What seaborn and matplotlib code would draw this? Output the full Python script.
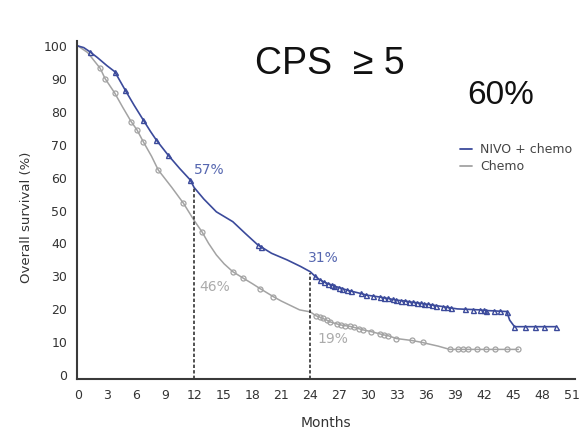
import matplotlib
matplotlib.use("Agg")
import matplotlib.pyplot as plt
import seaborn as sns
from matplotlib.lines import Line2D

# Kaplan-Meier overall survival, CPS >= 5 subgroup
nivo_months = [0, 0.6, 1.2, 2, 3, 3.8, 4.9, 5.8, 6.75, 7.5, 8.1, 9.3, 10.5, 11.6, 12,
               13, 14.3, 16, 17.3, 18.6, 18.9, 20, 21.6, 23, 24, 24.5, 25, 25.4, 25.8,
               26.2, 26.5, 27, 27.3, 27.8, 28.2, 28.5, 29.2, 29.8, 30.5, 31.2, 31.6,
               32, 32.5, 32.9, 33.4, 33.8, 34.2, 34.6, 35, 35.4, 35.8, 36.2, 36.6, 37,
               37.7, 38.1, 38.5, 39.2, 40, 40.8, 41.5, 41.9, 42.2, 43, 43.6, 44.3, 44.6,
               45.1, 46.2, 47.2, 48.2, 49.4]
nivo_surv = [100, 99.5, 98.3, 96.5, 94, 92.2, 86.5, 82, 77.5, 74, 71.4, 66.9, 62.8, 59.3, 57,
             53.5, 49.6, 46.6, 43, 39.5, 39.0, 37, 35, 33, 31.4, 30, 28.9, 28.3, 27.8,
             27.4, 27, 26.6, 26.3, 25.8, 25.5, 25.3, 24.8, 24.3, 24, 23.7, 23.5,
             23.3, 23.0, 22.8, 22.6, 22.5, 22.3, 22.1, 22.0, 21.8, 21.6, 21.5, 21.3, 21.1,
             20.8, 20.6, 20.4, 20.1, 20, 19.9, 19.8, 19.7, 19.6, 19.5, 19.4, 19.3, 16.7,
             14.7, 14.7, 14.7, 14.7, 14.7]
nivo_censored = [1.2, 3.8, 4.9, 6.75, 8.1, 9.3, 11.6, 18.6, 18.9, 24.5, 25, 25.4, 25.8,
                 26.2, 26.5, 27, 27.3, 27.8, 28.2, 29.2, 29.8, 30.5, 31.2, 31.6, 32,
                 32.5, 32.9, 33.4, 33.8, 34.2, 34.6, 35, 35.4, 35.8, 36.2, 36.6, 37,
                 37.7, 38.1, 38.5, 40, 40.8, 41.5, 41.9, 42.2, 43, 43.6, 44.3, 45.1,
                 46.2, 47.2, 48.2, 49.4]

chemo_months = [0, 1, 2.3, 2.8, 3.8, 4.6, 5.5, 6.1, 6.75, 7.6, 8.3, 9.7, 10.9, 12, 12.8,
                13.5, 14.3, 15.1, 16, 17.1, 18, 18.8, 20.2, 21, 22.9, 24, 24.6, 25.0,
                25.3, 25.7, 26, 26.8, 27.2, 27.6, 28.1, 28.5, 29.0, 29.5, 30.3, 31.2,
                31.6, 32, 32.9, 34.5, 35.6, 36, 37.2, 38.4, 39.3, 39.8, 40.3, 41.2,
                42.2, 43.1, 44.3, 45.5]
chemo_surv = [100, 98, 93.2, 90.1, 85.7, 81.5, 77, 74.5, 70.9, 66.5, 62.3, 57, 52.2, 47, 43.6,
              40, 36.5, 33.8, 31.4, 29.4, 27.8, 26.3, 23.8, 22.5, 19.8, 19.2, 18, 17.6,
              17.2, 16.7, 16.2, 15.5, 15.2, 15, 14.8, 14.5, 14.1, 13.7, 13.2, 12.5,
              12.2, 12, 11.1, 10.5, 9.9, 9.6, 8.8, 7.8, 7.8, 7.8, 7.8, 7.8,
              7.8, 7.8, 7.8, 7.8]
chemo_censored = [2.3, 2.8, 3.8, 5.5, 6.1, 6.75, 8.3, 10.9, 12.8, 16, 17.1, 18.8, 20.2,
                  24.6, 25.0, 25.3, 25.7, 26, 26.8, 27.2, 27.6, 28.1, 28.5, 29.0, 29.5,
                  30.3, 31.2, 31.6, 32, 32.9, 34.5, 35.6, 38.4, 39.3, 39.8, 40.3, 41.2,
                  42.2, 43.1, 44.3, 45.5]

# Landmark survival rates at 12 and 24 months
landmark_months = [12, 24]
nivo_landmarks = [57, 31]
chemo_landmarks = [46, 19]

series_names = ["NIVO + chemo", "Chemo"]
x_ticks = list(range(0, 52, 3))
y_ticks = list(range(0, 101, 10))

BLUE = "#3b4a9b"
BLUE_TXT = "#5667b0"
GRAY = "#a3a3a3"
GRAY_TXT = "#ababab"
AXIS = "#3a3a3a"

sns.set_theme(style="white")
plt.rcParams["font.family"] = ["DejaVu Sans"]

fig = plt.figure(figsize=(5.84, 4.30), dpi=100)
ax = fig.add_axes([0.1318, 0.1186, 0.8536, 0.786])


def mark_idx(months, censored):
    cs = set(censored)
    return [i for i, m in enumerate(months) if m in cs]


sns.lineplot(x=chemo_months, y=chemo_surv, ax=ax, color=GRAY, linewidth=1.1,
             marker="o", markersize=3.6, markerfacecolor="none",
             markeredgecolor=GRAY, markeredgewidth=0.9,
             markevery=mark_idx(chemo_months, chemo_censored), estimator=None,
             sort=False)
sns.lineplot(x=nivo_months, y=nivo_surv, ax=ax, color=BLUE, linewidth=1.2,
             marker="^", markersize=3.6, markerfacecolor="none",
             markeredgecolor=BLUE, markeredgewidth=1.0,
             markevery=mark_idx(nivo_months, nivo_censored), estimator=None,
             sort=False)

# dashed landmark lines from the axis to the NIVO + chemo curve
ax.vlines(landmark_months, -1.2, nivo_landmarks, colors="#222222",
          linestyles=(0, (2.2, 1.4)), linewidth=1.1)

# landmark labels
label_kw = dict(fontsize=10, va="center", ha="left")
ax.text(12.0, 62.3, f"{nivo_landmarks[0]}%", color=BLUE_TXT, **label_kw)
ax.text(23.8, 35.6, f"{nivo_landmarks[1]}%", color=BLUE_TXT, **label_kw)
ax.text(12.5, 26.8, f"{chemo_landmarks[0]}%", color=GRAY_TXT, **label_kw)
ax.text(24.7, 10.9, f"{chemo_landmarks[1]}%", color=GRAY_TXT, **label_kw)

ax.set_xlim(-0.1, 51.4)
ax.set_ylim(-1.2, 101.5)
ax.set_xticks(x_ticks)
ax.set_yticks(y_ticks)
ax.tick_params(axis="both", direction="out", length=5, width=1.3, color=AXIS,
               labelsize=9, labelcolor="#333333", pad=2)
for side in ["top", "right"]:
    ax.spines[side].set_visible(False)
for side in ["left", "bottom"]:
    ax.spines[side].set_color(AXIS)
    ax.spines[side].set_linewidth(1.5)

ax.set_xlabel("Months", fontsize=10, color="#333333", labelpad=10.5)
ax.set_ylabel("Overall survival (%)", fontsize=9.5, color="#333333")
ax.yaxis.set_label_coords(-0.088, 0.479)

# title and headline figure
fig.text(0.564, 0.851, "CPS  \u2265 5", fontsize=27, color="#111111",
         ha="center", va="center", family="Liberation Sans")
fig.text(0.858, 0.777, "60%", fontsize=24, color="#111111",
         ha="center", va="center", family="Liberation Sans")

handles = [Line2D([0], [0], color=BLUE, lw=1.3),
           Line2D([0], [0], color=GRAY, lw=1.3)]
leg = ax.legend(handles, series_names, loc="upper left",
                bbox_to_anchor=(0.768, 0.697), frameon=False, fontsize=9,
                handlelength=1.0, handletextpad=0.6, labelspacing=0.28,
                borderaxespad=0, borderpad=0)
for t in leg.get_texts():
    t.set_color("#444444")

fig.savefig("out.png", dpi=100, facecolor="white")
